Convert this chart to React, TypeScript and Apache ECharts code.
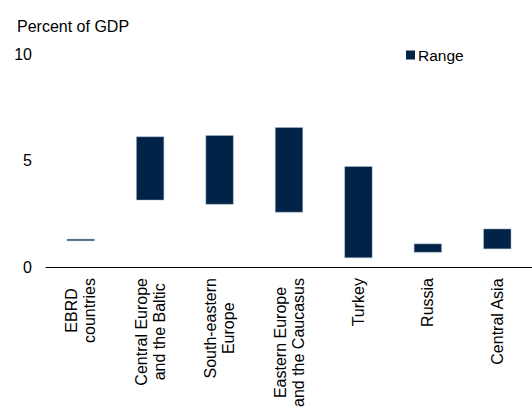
import React, { useEffect, useRef } from "react";
import * as echarts from "echarts";

const categories = [
  "EBRD\ncountries",
  "Central Europe\nand the Baltic",
  "South-eastern\nEurope",
  "Eastern Europe\nand the Caucasus",
  "Turkey",
  "Russia",
  "Central Asia",
];
const rangeLow = [1.22, 3.13, 2.93, 2.56, 0.42, 0.68, 0.84];
const rangeHigh = [1.32, 6.13, 6.19, 6.56, 4.73, 1.1, 1.8];
const yTicks = { min: 0, max: 10, interval: 5 };

const NAVY = "#002347";
const FONT = "Liberation Sans, Arial, sans-serif";

export default function App() {
  const ref = useRef<HTMLDivElement>(null);
  useEffect(() => {
    if (!ref.current) return;
    const chart = echarts.init(ref.current, undefined, { renderer: "svg" });
    const span = rangeHigh.map((h, i) => +(h - rangeLow[i]).toFixed(3));
    chart.setOption({
      animation: false,
      textStyle: { fontFamily: FONT },
      title: {
        text: "Percent of GDP",
        left: 12,
        top: 13,
        textStyle: { fontSize: 16, fontWeight: "normal", color: "#000", fontFamily: FONT },
      },
      legend: {
        data: ["Range"],
        left: 401,
        top: 42,
        itemWidth: 9,
        itemHeight: 9,
        itemGap: 10,
        icon: "rect",
        itemStyle: { color: NAVY, borderWidth: 0 },
        textStyle: { fontSize: 15.5, color: "#000", fontFamily: FONT, padding: [0, 0, 0, -2] },
      },
      grid: { left: 46, right: 0, top: 54, bottom: 141, containLabel: false },
      xAxis: {
        type: "category",
        data: categories,
        axisLine: { show: true, lineStyle: { color: "#000", width: 1 } },
        axisTick: { show: false },
        axisLabel: {
          rotate: 90,
          margin: 11,
          interval: 0,
          color: "#000",
          fontSize: 16,
          fontFamily: FONT,
          formatter: (v: string) =>
            v
              .split("\n")
              .map((l) => `{c|${l}}`)
              .join("\n"),
          rich: {
            c: { align: "center", fontSize: 16, lineHeight: 18, fontFamily: FONT, color: "#000" },
          },
        },
      },
      yAxis: {
        type: "value",
        min: yTicks.min,
        max: yTicks.max,
        interval: yTicks.interval,
        axisLine: { show: false },
        axisTick: { show: false },
        splitLine: { show: false },
        axisLabel: { color: "#000", fontSize: 16, fontFamily: FONT, margin: 14 },
      },
      series: [
        {
          name: "Base",
          type: "bar",
          stack: "r",
          data: rangeLow,
          barWidth: 28,
          itemStyle: { color: "transparent" },
          silent: true,
        },
        {
          name: "Range",
          type: "bar",
          stack: "r",
          data: span,
          barWidth: 28,
          itemStyle: { color: NAVY, borderColor: "#b5c3d3", borderWidth: 0.5 },
        },
      ],
    });
    return () => chart.dispose();
  }, []);
  return (
    <div
      ref={ref}
      style={{ position: "fixed", left: 0, top: 0, width: 532, height: 410, background: "#fff" }}
    />
  );
}
